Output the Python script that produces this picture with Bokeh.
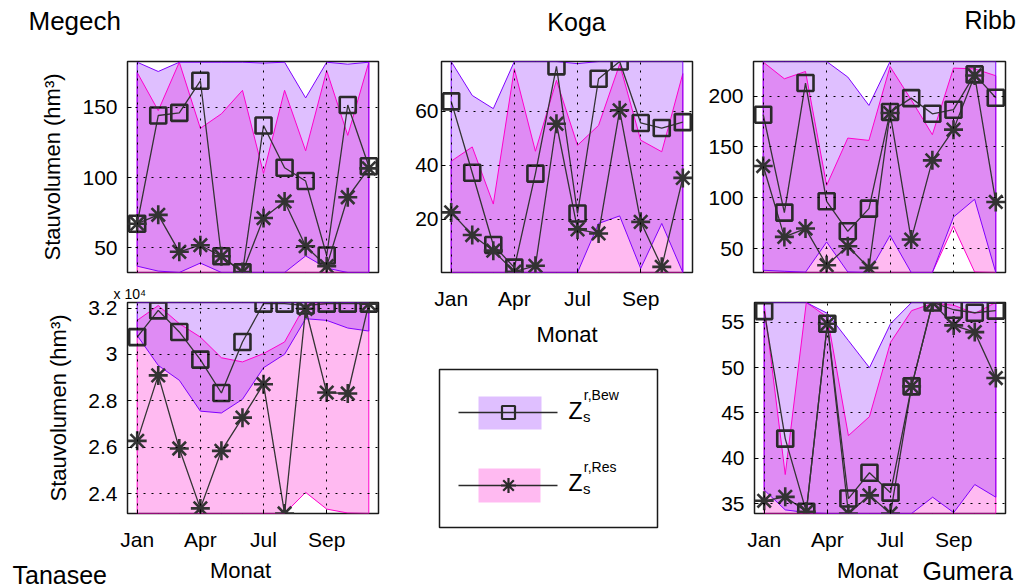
from bokeh.core.properties import value
from bokeh.embed import file_html
from bokeh.layouts import column, row
from bokeh.models import CustomJSTickFormatter, FixedTicker, Range1d, Title
from bokeh.plotting import figure
from bokeh.resources import INLINE

FONT = "Liberation Sans"

months = [1, 2, 3, 4, 5, 6, 7, 8, 9, 10, 11, 12]
month_ticks = [1, 4, 7, 10]
month_labels = ["Jan", "Apr", "Jul", "Sep"]

# ---- Megech (hm3) ----
megech_bew = [67.2, 144.1, 146.0, 168.8, 44.0, 32.6, 137.0, 107.0, 97.5, 44.6, 151.6, 108.0]
megech_res = [67.2, 73.5, 47.2, 51.9, 44.0, 32.8, 71.2, 83.0, 51.2, 37.0, 86.0, 106.5]
megech_bew_hi = [182.0, 175.4, 182.0, 182.0, 182.0, 182.0, 181.4, 182.0, 156.6, 182.0, 180.6, 182.0]
megech_bew_lo = [37.0, 33.5, 32.5, 39.2, 32.5, 32.5, 32.5, 32.5, 44.3, 35.6, 32.5, 32.5]
megech_res_hi = [174.7, 147.6, 182.0, 135.0, 145.3, 162.0, 103.0, 162.0, 119.0, 176.0, 130.0, 182.0]
megech_res_lo = [32.5, 32.5, 32.5, 32.5, 32.5, 32.5, 32.5, 32.5, 32.5, 32.5, 32.5, 32.5]

# ---- Koga (hm3) ----
koga_bew = [63.7, 37.2, 10.4, 2.0, 36.9, 76.7, 22.1, 72.1, 78.5, 55.7, 53.8, 56.0]
koga_res = [22.5, 14.1, 8.3, 0.5, 2.7, 55.4, 16.2, 14.7, 60.4, 19.0, 2.3, 35.3]
koga_bew_hi = [78.5, 65.9, 61.0, 78.5, 78.5, 78.5, 77.7, 78.5, 78.5, 78.5, 78.5, 78.5]
koga_bew_lo = [0.2, 0.2, 0.2, 0.2, 0.2, 0.2, 0.2, 18.4, 21.2, 1.7, 18.4, 0.2]
koga_res_hi = [41.5, 46.8, 25.6, 75.8, 45.2, 71.5, 47.4, 54.8, 77.5, 49.3, 45.0, 74.0]
koga_res_lo = [0.2, 0.2, 0.2, 0.2, 0.2, 0.2, 0.2, 0.2, 0.2, 0.2, 0.2, 0.2]

# ---- Ribb (hm3) ----
ribb_bew = [181.7, 85.4, 212.8, 96.5, 67.0, 89.3, 184.3, 198.0, 182.6, 186.6, 221.3, 198.4]
ribb_res = [131.2, 61.5, 69.7, 33.7, 52.3, 31.0, 183.3, 58.9, 136.8, 167.0, 220.3, 95.9]
ribb_bew_hi = [234.0, 234.0, 234.0, 234.0, 218.7, 190.8, 234.0, 234.0, 234.0, 234.0, 234.0, 234.0]
ribb_bew_lo = [28.7, 27.7, 26.8, 56.5, 27.0, 26.5, 63.0, 26.5, 26.5, 81.0, 98.5, 26.5]
ribb_res_hi = [233.4, 217.0, 224.2, 112.2, 158.7, 156.4, 229.0, 196.4, 162.0, 227.5, 226.8, 220.0]
ribb_res_lo = [26.5, 26.5, 26.5, 26.5, 26.5, 26.5, 26.5, 26.5, 26.5, 72.0, 27.0, 26.5]

# ---- Tanasee (hm3) ----
tanasee_bew = [30750, 31900, 30970, 29780, 28340, 30540, 32190, 32190, 32110, 32190, 32190, 32190]
tanasee_res = [26280, 29100, 25950, 23370, 25850, 27280, 28720, 23150, 31970, 28360, 28320, 32190]
tanasee_bew_hi = [32240, 32240, 32240, 32240, 32240, 32240, 32240, 32240, 32240, 32240, 32240, 32240]
tanasee_bew_lo = [30820, 29530, 28890, 27560, 27480, 28070, 29430, 30010, 31540, 31470, 31140, 31010]
tanasee_res_hi = [31470, 32110, 31330, 30750, 29860, 29680, 30040, 30540, 32160, 32190, 32210, 32190]
tanasee_res_lo = [23150, 23150, 23150, 23150, 23150, 23150, 23150, 23150, 24060, 23340, 23170, 23150]

# ---- Gumera (hm3) ----
gumera_bew = [56.25, 42.17, 34.1, 54.85, 35.55, 38.4, 36.2, 47.94, 57.2, 56.4, 56.07, 56.3]
gumera_res = [35.3, 35.74, 34.1, 54.85, 33.9, 35.9, 33.9, 47.94, 57.2, 54.67, 53.93, 48.86]
gumera_bew_hi = [57.2, 57.2, 57.2, 56.0, 53.0, 50.0, 54.85, 57.2, 57.2, 57.2, 57.2, 57.2]
gumera_bew_lo = [36.5, 34.3, 34.0, 33.9, 33.9, 33.9, 33.9, 33.9, 35.7, 34.0, 37.1, 35.7]
gumera_res_hi = [57.0, 38.2, 57.2, 55.6, 42.5, 44.6, 52.8, 56.3, 57.1, 56.9, 56.0, 57.2]
gumera_res_lo = [33.9, 33.9, 33.9, 33.9, 33.9, 33.9, 33.9, 33.9, 33.9, 33.9, 33.9, 33.9]

BEW_COLOR = "#8000ff"
RES_COLOR = "#ff00cc"
BEW_ALPHA = 0.25
RES_ALPHA = 0.27
INK = "#2a2a2a"


def text_strip(width, height, items):
    """A bare canvas strip carrying free-standing captions (x from left, y from bottom, in px)."""
    s = figure(width=width, height=height, x_range=Range1d(0, width), y_range=Range1d(0, height),
               x_axis_location=None, y_axis_location=None, min_border=0, frame_align=False,
               output_backend="svg", toolbar_location=None,
               background_fill_color="white", border_fill_color="white")
    s.grid.visible = False
    s.outline_line_color = None
    for x, y, txt, size, align in items:
        s.text(x=[x], y=[y], text=[txt], text_font=value(FONT), text_font_size=size,
               text_align=align, text_baseline="alphabetic", text_color="black")
    return s


def make_panel(width, height, borders, y_range, y_ticks, series,
               month_axis=True, y_standoff=10, y_formatter=None, y_label=None, x_label=None):
    left, right, top, bottom = borders
    p = figure(width=width, height=height,
               x_range=Range1d(0.54, 12.46), y_range=Range1d(*y_range),
               x_axis_location="below" if month_axis else None,
               min_border_left=left, min_border_right=right,
               min_border_top=top, min_border_bottom=bottom, frame_align=False,
               output_backend="svg", toolbar_location=None,
               background_fill_color="white", border_fill_color="white")
    bew, res, bew_hi, bew_lo, res_hi, res_lo = series

    ring_x = months + months[::-1]
    # range bands: reservoir band first, then the inflow band on top
    p.patch(ring_x, res_hi + res_lo[::-1], fill_color=RES_COLOR, fill_alpha=RES_ALPHA, line_color=None)
    p.patch(ring_x, bew_hi + bew_lo[::-1], fill_color=BEW_COLOR, fill_alpha=BEW_ALPHA, line_color=None)
    p.line(ring_x + [months[0]], res_hi + res_lo[::-1] + [res_hi[0]], line_color=RES_COLOR, line_width=1)
    p.line(ring_x + [months[0]], bew_hi + bew_lo[::-1] + [bew_hi[0]], line_color="#7f00ff", line_width=1)

    # monthly series
    p.line(months, bew, line_color="#333333", line_width=1.3)
    p.line(months, res, line_color="#333333", line_width=1.3)
    p.scatter(months, bew, marker="square", size=16, fill_color=None,
              line_color=INK, line_width=2.6)
    p.scatter(months, res, marker="asterisk", size=19, line_color="#333333", line_width=2.6)

    p.xgrid.ticker = FixedTicker(ticks=month_ticks)
    p.ygrid.ticker = FixedTicker(ticks=y_ticks)
    p.yaxis.ticker = FixedTicker(ticks=y_ticks)
    if month_axis:
        p.xaxis.ticker = FixedTicker(ticks=month_ticks)
        p.xaxis.major_label_overrides = dict(zip(month_ticks, month_labels))
        p.xaxis.major_label_standoff = 14
    if y_formatter is not None:
        p.yaxis.formatter = y_formatter

    for ax in p.axis:
        ax.axis_line_color = None
        ax.major_tick_in = 4
        ax.major_tick_out = 0
        ax.major_tick_line_color = "black"
        ax.minor_tick_line_color = None
        ax.major_label_text_font = FONT
        ax.major_label_text_font_size = "21px"
        ax.major_label_text_color = "black"
        ax.axis_label_text_font = FONT
        ax.axis_label_text_font_size = "22px"
        ax.axis_label_text_font_style = "normal"
        ax.axis_label_text_color = "black"
    p.yaxis.major_label_standoff = y_standoff
    if y_label:
        p.yaxis.axis_label = y_label
        p.yaxis.axis_label_standoff = 14
    if x_label and month_axis:
        p.xaxis.axis_label = x_label
        p.xaxis.axis_label_standoff = 9

    for g in (p.xgrid, p.ygrid):
        g.grid_line_color = "black"
        g.grid_line_dash = "2 6"
        g.grid_line_width = 1
        g.level = "guide"

    p.outline_line_color = "#1a1a1a"
    p.outline_line_width = 1.5
    p.outline_line_alpha = 1.0
    return p


# ---------------- left column ----------------
megech_head = text_strip(395, 40, [(28, 20, "Megech", "26px", "left")])
megech = make_panel(395, 240, (127, 17, 21, 8), (32.5, 182.5), [50, 100, 150],
                    (megech_bew, megech_res, megech_bew_hi, megech_bew_lo, megech_res_hi, megech_res_lo),
                    month_axis=False, y_label="Stauvolumen (hm³)")
tanasee = make_panel(395, 275, (127, 17, 22, 42), (23150, 32240), [24000, 26000, 28000, 30000, 32000],
                     (tanasee_bew, tanasee_res, tanasee_bew_hi, tanasee_bew_lo, tanasee_res_hi, tanasee_res_lo),
                     y_formatter=CustomJSTickFormatter(code="return String(Math.round(tick / 1000) / 10);"),
                     y_label="Stauvolumen (hm³)")
tanasee.add_layout(Title(text="x 10⁴", align="left", offset=-14, standoff=2, vertical_align="bottom",
                         text_font=FONT, text_font_size="14px", text_font_style="normal",
                         text_color="black"), "above")
tanasee_foot = text_strip(395, 33, [(12, 14, "Tanasee", "25px", "left"),
                                    (240, 18, "Monat", "22px", "center")])

# ---------------- middle column ----------------
koga_head = text_strip(305, 40, [(181, 19, "Koga", "25px", "center")])
koga = make_panel(305, 312, (46, 8, 21, 80), (0.2, 78.5), [20, 40, 60],
                  (koga_bew, koga_res, koga_bew_hi, koga_bew_lo, koga_res_hi, koga_res_lo),
                  y_standoff=3, x_label="Monat")

leg = figure(width=305, height=236, x_range=Range1d(0, 218), y_range=Range1d(0, 158),
             x_axis_location=None, y_axis_location=None, frame_align=False,
             min_border_left=44, min_border_right=43, min_border_top=17, min_border_bottom=61,
             output_backend="svg", toolbar_location=None,
             background_fill_color="white", border_fill_color="white")
leg.grid.visible = False
leg.outline_line_color = "#1a1a1a"
leg.outline_line_width = 1.5

leg.rect(x=[70.5], y=[114.5], width=63, height=33, fill_color=BEW_COLOR, fill_alpha=BEW_ALPHA, line_color=None)
leg.line([19, 118], [115, 115], line_color=INK, line_width=1.5)
leg.scatter([69], [115], marker="square", size=13, fill_color=None, line_color=INK, line_width=2.2)

leg.rect(x=[70], y=[42], width=62, height=34, fill_color=RES_COLOR, fill_alpha=RES_ALPHA, line_color=None)
leg.line([19, 118], [42, 42], line_color=INK, line_width=1.5)
leg.scatter([69], [42], marker="asterisk", size=15, line_color=INK, line_width=2.2)

for zy, sup_y, sub_y, sup in ((117.0, 132.7, 111.4, "r,Bew"), (44.6, 60.3, 39.4, "r,Res")):
    leg.text(x=[129], y=[zy], text=["Z"], text_font=value(FONT), text_font_size="23px",
             text_baseline="alphabetic", text_color="black")
    leg.text(x=[144.3], y=[sup_y], text=[sup], text_font=value(FONT), text_font_size="14px",
             text_baseline="alphabetic", text_color="black")
    leg.text(x=[143.5], y=[sub_y], text=["s"], text_font=value(FONT), text_font_size="15px",
             text_baseline="alphabetic", text_color="black")

# ---------------- right column ----------------
ribb_head = text_strip(323, 40, [(264, 20.7, "Ribb", "25px", "left")])
ribb = make_panel(323, 240, (53, 18, 21, 8), (26.5, 234.0), [50, 100, 150, 200],
                  (ribb_bew, ribb_res, ribb_bew_hi, ribb_bew_lo, ribb_res_hi, ribb_res_lo),
                  month_axis=False)
gumera = make_panel(323, 275, (54, 18, 22, 42), (33.9, 57.2), [35, 40, 45, 50, 55],
                    (gumera_bew, gumera_res, gumera_bew_hi, gumera_bew_lo, gumera_res_hi, gumera_res_lo))
gumera_foot = text_strip(323, 33, [(167, 18, "Monat", "22px", "center"),
                                   (222, 18, "Gumera", "25px", "left")])

layout = row(column(megech_head, megech, tanasee, tanasee_foot),
             column(koga_head, koga, leg),
             column(ribb_head, ribb, gumera, gumera_foot))

open("out.html", "w").write(file_html(layout, INLINE))
